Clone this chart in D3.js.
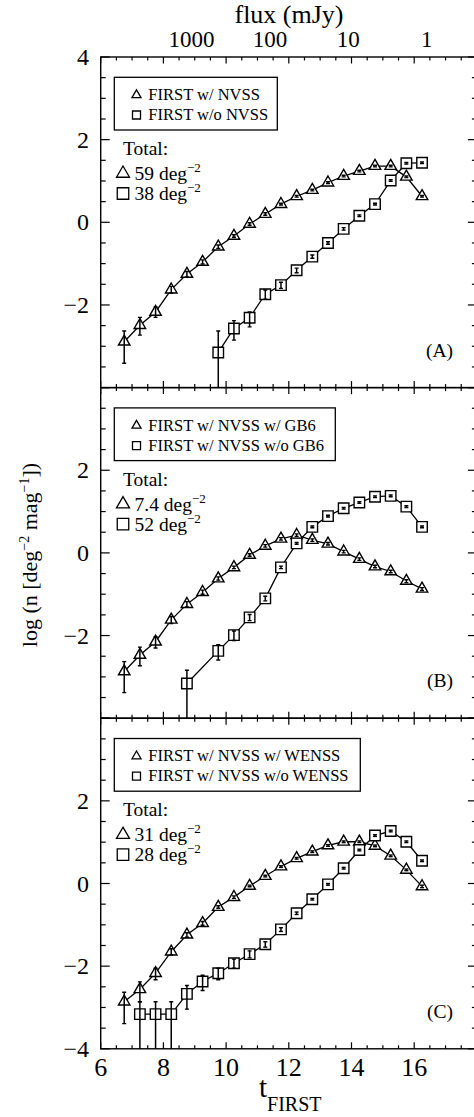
<!DOCTYPE html>
<html><head><meta charset="utf-8">
<script src="https://cdn.jsdelivr.net/npm/d3@7/dist/d3.min.js"></script>
<style>
html,body{margin:0;padding:0;background:#fff;}
svg{display:block;font-family:"Liberation Serif","Times New Roman",serif;}
</style></head>
<body><svg id="c" width="474" height="1117"></svg>
<script>
// ---------------- data ----------------
const tBins = [6.75,7.25,7.75,8.25,8.75,9.25,9.75,10.25,10.75,11.25,11.75,12.25,12.75,13.25,13.75,14.25,14.75,15.25,15.75,16.25];
const xTicks = [6,8,10,12,14,16];
const yTicks = [4,2,0,-2,-4];
const fluxLabels = [1000,100,10,1]; // mJy

// Panel A
const aTri = [-2.89,-2.49,-2.17,-1.63,-1.25,-0.96,-0.59,-0.33,-0.04,0.20,0.44,0.63,0.78,0.96,1.12,1.24,1.36,1.36,1.10,0.63];
const aTriUp = [0.26,0.19,0.12,0.08,0.06,0.05,0.04,0.03,0.03,0.03,0.02,0.02,0.02,0.02,0.02,0.02,0.02,0.02,0.02,0.02];
const aTriDn = [0.52,0.24,0.13,0.08,0.07,0.05,0.04,0.03,0.03,0.03,0.02,0.02,0.02,0.02,0.02,0.02,0.02,0.02,0.02,0.02];
const aSq = [null,null,null,null,null,null,-3.15,-2.57,-2.31,-1.74,-1.52,-1.16,-0.83,-0.50,-0.16,0.16,0.44,1.01,1.43,1.44];
const aSqUp = [null,null,null,null,null,null,0.52,0.19,0.14,0.10,0.07,0.05,0.04,0.03,0.03,0.02,0.02,0.02,0.02,0.02];
const aSqDn = [null,null,null,null,null,null,null,0.28,0.22,0.12,0.08,0.06,0.04,0.03,0.03,0.02,0.02,0.02,0.02,0.02];

// Panel B
const bTri = [-2.87,-2.47,-2.15,-1.62,-1.24,-0.95,-0.62,-0.35,-0.05,0.17,0.34,0.43,0.31,0.22,0.03,-0.15,-0.33,-0.45,-0.68,-0.87];
const bTriUp = [0.24,0.19,0.12,0.08,0.06,0.05,0.04,0.03,0.03,0.03,0.03,0.03,0.03,0.03,0.03,0.03,0.03,0.03,0.03,0.03];
const bTriDn = [0.51,0.26,0.15,0.09,0.07,0.05,0.04,0.03,0.03,0.03,0.03,0.03,0.03,0.03,0.03,0.03,0.03,0.03,0.04,0.04];
const bSq = [null,null,null,null,-3.16,null,-2.37,-1.99,-1.56,-1.10,-0.35,0.23,0.63,0.89,1.08,1.22,1.36,1.38,1.12,0.63];
const bSqUp = [null,null,null,null,0.32,null,0.15,0.10,0.07,0.05,0.03,0.02,0.02,0.02,0.02,0.02,0.02,0.02,0.02,0.02];
const bSqDn = [null,null,null,null,null,null,0.22,0.13,0.08,0.06,0.03,0.02,0.02,0.02,0.02,0.02,0.02,0.02,0.02,0.02];

// Panel C
const cTri = [-2.86,-2.56,-2.17,-1.65,-1.24,-0.96,-0.57,-0.33,-0.06,0.18,0.41,0.61,0.77,0.92,1.01,1.01,0.91,0.67,0.33,-0.07];
const cTriUp = [0.23,0.18,0.12,0.07,0.05,0.04,0.03,0.03,0.02,0.02,0.02,0.02,0.02,0.02,0.02,0.02,0.02,0.02,0.02,0.03];
const cTriDn = [0.53,0.30,0.16,0.08,0.06,0.05,0.03,0.03,0.02,0.02,0.02,0.02,0.02,0.02,0.02,0.02,0.02,0.02,0.02,0.03];
const cSq = [null,-3.16,-3.16,-3.16,-2.67,-2.37,-2.17,-1.93,-1.71,-1.47,-1.11,-0.72,-0.38,-0.02,0.37,0.81,1.16,1.27,1.01,0.55];
const cSqUp = [null,0.30,0.30,0.30,0.20,0.15,0.12,0.10,0.08,0.06,0.04,0.03,0.02,0.02,0.02,0.02,0.02,0.02,0.02,0.02];
const cSqDn = [null,null,null,null,0.37,0.22,0.16,0.12,0.09,0.07,0.05,0.03,0.02,0.02,0.02,0.02,0.02,0.02,0.02,0.02];

const panels = [
  {tag:"(A)", leg:["FIRST w/ NVSS","FIRST w/o NVSS"], totals:["59","38"],
   tri:aTri, triUp:aTriUp, triDn:aTriDn, sq:aSq, sqUp:aSqUp, sqDn:aSqDn, boxW:163, labels:[4,2,0,-2]},
  {tag:"(B)", leg:["FIRST w/ NVSS w/ GB6","FIRST w/ NVSS w/o GB6"], totals:["7.4","52"],
   tri:bTri, triUp:bTriUp, triDn:bTriDn, sq:bSq, sqUp:bSqUp, sqDn:bSqDn, boxW:221, labels:[2,0,-2]},
  {tag:"(C)", leg:["FIRST w/ NVSS w/ WENSS","FIRST w/ NVSS w/o WENSS"], totals:["31","28"],
   tri:cTri, triUp:cTriUp, triDn:cTriDn, sq:cSq, sqUp:cSqUp, sqDn:cSqDn, boxW:246, labels:[2,0,-2,-4]}
];

// ---------------- layout ----------------
const svg = d3.select("#c");
const left = 100.7, right = 476.9;
const top0 = 57, panelH = 330.6;
const x = d3.scaleLinear().domain([6,18]).range([left,right]);
const minorX = d3.range(6,18.01,0.5);
const minorY = d3.range(-4,4.01,0.5);
const fluxToT = s => 8.9 - 2.5*Math.log10(s/1000);

const triPath = (s) => { const h = s*Math.sqrt(3)/2; return `M0,${-2*h/3}L${s/2},${h/3}L${-s/2},${h/3}Z`; };
const sqPath = (s) => `M${-s/2},${-s/2}h${s}v${s}h${-s}Z`;

panels.forEach((p,i) => {
  const y0 = top0 + i*panelH;
  const y = d3.scaleLinear().domain([-4,4]).range([y0+panelH, y0]);
  const g = svg.append("g");

  g.append("rect").attr("x",left).attr("y",y0).attr("width",right-left).attr("height",panelH)
    .attr("fill","none").attr("stroke","#000").attr("stroke-width",1.4);

  minorX.forEach(v => {
    const major = Math.abs(v - Math.round(v/2)*2) < 1e-6;
    const L = major ? 6.5 : 3.5;
    g.append("line").attr("x1",x(v)).attr("x2",x(v)).attr("y1",y0).attr("y2",y0+L).attr("stroke","#000").attr("stroke-width",1.2);
    g.append("line").attr("x1",x(v)).attr("x2",x(v)).attr("y1",y0+panelH).attr("y2",y0+panelH-L).attr("stroke","#000").attr("stroke-width",1.2);
  });
  minorY.forEach(v => {
    const major = Math.abs(v - Math.round(v/2)*2) < 1e-6;
    const L = major ? 9 : 5;
    g.append("line").attr("x1",left).attr("x2",left+L).attr("y1",y(v)).attr("y2",y(v)).attr("stroke","#000").attr("stroke-width",1.2);
    g.append("line").attr("x1",right).attr("x2",right-L).attr("y1",y(v)).attr("y2",y(v)).attr("stroke","#000").attr("stroke-width",1.2);
  });
  p.labels.forEach(v => {
    g.append("text").attr("x",89).attr("y",y(v)+8).attr("text-anchor","end")
      .attr("font-size",24).text(v<0 ? "\u2212"+Math.abs(v) : String(v));
  });

  const clip = "clip"+i;
  svg.append("clipPath").attr("id",clip).append("rect").attr("x",left).attr("y",y0).attr("width",right-left).attr("height",panelH);
  const pg = g.append("g").attr("clip-path",`url(#${clip})`);

  const series = [
    {vals:p.tri, up:p.triUp, dn:p.triDn, shape:"tri"},
    {vals:p.sq, up:p.sqUp, dn:p.sqDn, shape:"sq"}
  ];
  const line = d3.line().x(d=>x(d.t)).y(d=>y(d.v));
  series.forEach(s => {
    const pts = tBins.map((t,k)=>({t, v:s.vals[k]})).filter(d=>d.v!==null);
    pg.append("path").datum(pts).attr("d",line).attr("fill","none").attr("stroke","#000").attr("stroke-width",1.3);
  });
  series.forEach(s => {
    const pts = tBins.map((t,k)=>({t, v:s.vals[k], up:s.up[k], dn:s.dn[k]})).filter(d=>d.v!==null);
    pg.selectAll(null).data(pts).enter().append("path")
      .attr("transform",d=>`translate(${x(d.t)},${y(d.v)})`)
      .attr("d", s.shape==="tri" ? triPath(11.5) : sqPath(10.5))
      .attr("fill","#fff").attr("stroke","#000").attr("stroke-width",1.4);
    pts.forEach(d => {
      const yt = y(d.v + d.up);
      const yb = d.dn===null ? y0+panelH+5 : y(d.v - d.dn);
      pg.append("line").attr("x1",x(d.t)).attr("x2",x(d.t)).attr("y1",yt).attr("y2",yb).attr("stroke","#000").attr("stroke-width",1.5);
      pg.append("line").attr("x1",x(d.t)-2).attr("x2",x(d.t)+2).attr("y1",yt).attr("y2",yt).attr("stroke","#000").attr("stroke-width",1.4);
      if (d.dn!==null) pg.append("line").attr("x1",x(d.t)-2).attr("x2",x(d.t)+2).attr("y1",yb).attr("y2",yb).attr("stroke","#000").attr("stroke-width",1.4);
    });
  });

  const bx = 114.3, by = y0 + 20.3;
  g.append("rect").attr("x",bx).attr("y",by).attr("width",p.boxW).attr("height",52.7)
    .attr("fill","#fff").attr("stroke","#000").attr("stroke-width",1.3);
  p.leg.forEach((txt,k) => {
    const ly = by + 22.7 + k*20;
    g.append("path").attr("transform",`translate(136.5,${ly-5})`)
      .attr("d", k===0 ? triPath(9) : sqPath(8)).attr("fill","none").attr("stroke","#000").attr("stroke-width",1.3);
    g.append("text").attr("x",148.3).attr("y",ly).attr("font-size",16.5).text(txt);
  });
  g.append("text").attr("x",123).attr("y",y0+98).attr("font-size",19.5).text("Total:");
  p.totals.forEach((tv,k) => {
    const ly = y0 + 123 + k*20;
    g.append("path").attr("transform",`translate(123,${ly-6.5})`)
      .attr("d", k===0 ? triPath(13) : sqPath(11.5)).attr("fill","none").attr("stroke","#000").attr("stroke-width",1.3);
    const t = g.append("text").attr("x",134.5).attr("y",ly).attr("font-size",19.5);
    t.append("tspan").text(tv+" deg");
    t.append("tspan").attr("font-size",13).attr("dy",-8).text("\u22122");
  });
  g.append("text").attr("x",453).attr("y",y0+299.7).attr("text-anchor","end").attr("font-size",19.5).text(p.tag);
});

const yb = top0 + 3*panelH;
xTicks.forEach(v => {
  svg.append("text").attr("x",x(v)).attr("y",yb+27).attr("text-anchor","middle").attr("font-size",26).text(v);
});
const xt = svg.append("text").attr("x",259).attr("y",1097).attr("font-size",29);
xt.append("tspan").text("t");
xt.append("tspan").attr("font-size",20).attr("dy",14).text("FIRST");

fluxLabels.forEach(s => {
  svg.append("text").attr("x",x(fluxToT(s))).attr("y",47).attr("text-anchor","middle").attr("font-size",23).text(s);
});
svg.append("text").attr("x",289).attr("y",23).attr("text-anchor","middle").attr("font-size",26).text("flux (mJy)");

const yt = svg.append("text").attr("transform","translate(37,555) rotate(-90)").attr("text-anchor","middle").attr("font-size",22);
yt.append("tspan").text("log (n [deg");
yt.append("tspan").attr("font-size",14).attr("dy",-8).text("\u22122");
yt.append("tspan").attr("dy",8).text(" mag");
yt.append("tspan").attr("font-size",14).attr("dy",-8).text("\u22121");
yt.append("tspan").attr("dy",8).text("])");
</script></body></html>
